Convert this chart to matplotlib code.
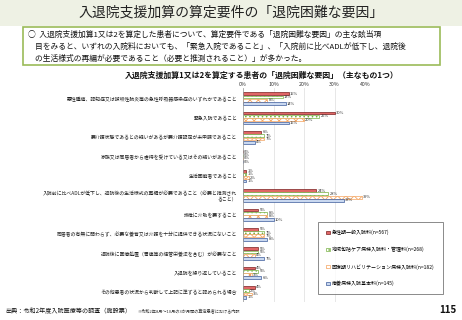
import matplotlib
matplotlib.use('Agg')
import matplotlib.pyplot as plt
import matplotlib.patches as mpatches
import numpy as np

plt.rcParams['font.family'] = ['Noto Sans CJK JP', 'DejaVu Sans']
plt.rcParams['hatch.linewidth'] = 0.6

categories = [
    '悪性腫瘍、認知症又は誤嚥性肺炎等の急性呼吸器感染症のいずれかであること',
    '緊急入院であること',
    '要介護状態であるとの疑いがあるが要介護認定が未申請であること',
    '家族又は同居者から虐待を受けている又はその疑いがあること',
    '生活困窮者であること',
    '入院前に比べADLが低下し、退院後の生活様式の再編が必要であること（必要と推測され\nること）',
    '排泄に介助を要すること',
    '同居者の有無に関わらず、必要な養育又は介護を十分に提供できる状況にないこと',
    '退院後に医療処置（胃瘻等の経管栄養法を含む）が必要なこと',
    '入退院を繰り返していること',
    'その他患者の状況から判断して上記に準ずると認められる場合',
]
series_names = [
    '急性期一般入院料(n=567)',
    '地域包括ケア病棟入院料・管理料(n=268)',
    '回復期リハビリテーション病棟入院料(n=182)',
    '療養病棟入院基本料(n=145)',
]
acute = [15, 30, 6, 0, 1, 24, 5, 5, 5, 4, 4]
community = [13, 25, 7, 0, 1, 28, 8, 7, 5, 5, 2]
rehab = [8, 20, 7, 0, 2, 39, 8, 7, 4, 3, 3]
longterm = [14, 15, 4, 0, 1, 33, 10, 8, 7, 6, 1]
values = [acute, community, rehab, longterm]

styles = [
    dict(color='#e06666', edgecolor='#7a2020', hatch=None),
    dict(color='white', edgecolor='#76b041', hatch='....'),
    dict(color='white', edgecolor='#f4a460', hatch='xxxx'),
    dict(color='#c9d8f0', edgecolor='#3c5a9a', hatch=None),
]

fig = plt.figure(figsize=(4.62, 3.2), dpi=100)

# title banner
fig.patches.append(mpatches.Rectangle((0, 1 - 26 / 320), 1, 26 / 320, transform=fig.transFigure,
                                      facecolor='#eef1e4', edgecolor='none', zorder=0))
fig.text(0.5, 1 - 13 / 320, '入退院支援加算の算定要件の「退院困難な要因」', ha='center', va='center',
         fontsize=10, color='#222222')

# summary box
fig.patches.append(mpatches.Rectangle((23 / 462, 1 - 65 / 320), 417 / 462, 38 / 320,
                                      transform=fig.transFigure, facecolor='white',
                                      edgecolor='#9bbb59', linewidth=1.2))
box_lines = [
    '○  入退院支援加算1又は2を算定した患者について、算定要件である「退院困難な要因」の主な該当項',
    '    目をみると、いずれの入院料においても、「緊急入院であること」、「入院前に比べADLが低下し、退院後',
    '    の生活様式の再編が必要であること（必要と推測されること）」が多かった。',
]
for i, line in enumerate(box_lines):
    fig.text(28 / 462, 1 - (35 + i * 12) / 320, line, ha='left', va='center', fontsize=5.6,
             color='#111111')

fig.text(262 / 462, 1 - 75 / 320, '入退院支援加算1又は2を算定する患者の「退院困難な要因」（主なもの1つ）',
         ha='center', va='center', fontsize=5.7, fontweight='bold', color='#111111')

ax = fig.add_axes([243 / 462, 1 - 302 / 320, 122 / 462, 214 / 320])
n = len(categories)
y = np.arange(n)
h = 0.17
for k in range(4):
    pos = y - 0.255 + k * h
    ax.barh(pos, values[k], height=h * 0.85, label=series_names[k], color=styles[k]['color'],
            edgecolor=styles[k]['edgecolor'], hatch=styles[k]['hatch'], linewidth=0.5, zorder=2)
    for p, v in zip(pos, values[k]):
        ax.text(v + 0.4, p, f'{v}%', ha='left', va='center', fontsize=2.9, color='#333333',
                clip_on=False)

ax.set_xlim(0, 40)
ax.set_ylim(n - 0.5, -0.55)
ax.set_xticks([0, 10, 20, 30, 40])
ax.set_xticklabels(['0%', '10%', '20%', '30%', '40%'])
ax.xaxis.tick_top()
ax.tick_params(axis='x', labelsize=3.8, length=0, pad=1, colors='#333333')
ax.set_yticks(y)
ax.set_yticklabels(categories, fontsize=3.5, color='#222222')
ax.tick_params(axis='y', length=0, pad=4)
ax.grid(axis='x', color='#dddddd', linewidth=0.5, zorder=0)
for s in ax.spines.values():
    s.set_visible(False)
ax.axvline(0, color='#999999', linewidth=0.5, zorder=3)

leg = fig.legend(loc='upper left', bbox_to_anchor=(318 / 462, 1 - 222 / 320), fontsize=3.6,
                 frameon=True, fancybox=False, edgecolor='#555555', labelspacing=2.3,
                 handlelength=0.7, handleheight=0.7, handletextpad=0.5, borderpad=1.6,
                 borderaxespad=0)
leg.get_frame().set_linewidth(0.6)

fig.text(5 / 462, 1 - 311 / 320, '出典：令和2年度入院医療等の調査（施設票）', ha='left', va='center',
         fontsize=4.4, color='#111111')
fig.text(137 / 462, 1 - 311 / 320, '※令和2年8月～10月の3か月間の算定患者における内訳', ha='left',
         va='center', fontsize=3.0, color='#333333')
fig.text(456 / 462, 1 - 310 / 320, '115', ha='right', va='center', fontsize=7, fontweight='bold',
         color='#111111')

fig.savefig('out.png', dpi=100)
